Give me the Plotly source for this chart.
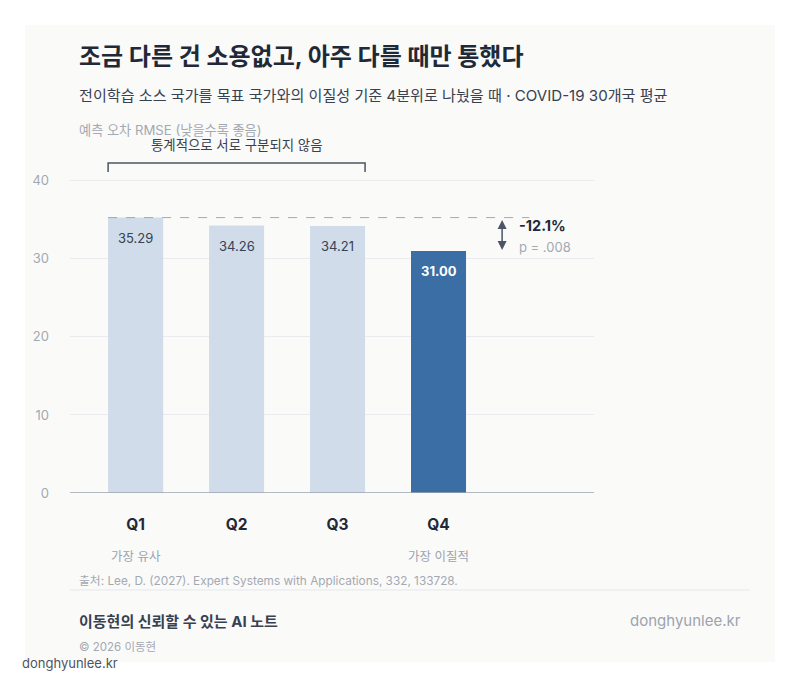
import plotly.graph_objects as go

# dados
quartis = ['Q1', 'Q2', 'Q3', 'Q4']
rmse = [35.29, 34.26, 34.21, 31.00]
rotulos = ['35.29', '34.26', '34.21', '31.00']
notas_eixo = ['가장 유사', '', '', '가장 이질적']
y_ticks = [0, 10, 20, 30, 40]
reducao = '-12.1%'
p_valor = 'p = .008'

FONTE = "Inter, 'Noto Sans CJK KR', sans-serif"
CARD = '#fafaf9'
OFF = 8  # margem do body na pagina
L, R, T, B = 70 - OFF, 594 - OFF, 134 - OFF, 493 - OFF


def px(x):
    return (x - OFF - L) / (R - L)


def py(y):
    return (B - (y - OFF)) / (B - T)


cores = ['#d0dcea', '#d0dcea', '#d0dcea', '#3b6ea5']
x = list(range(len(quartis)))
largura = 0.545

fig = go.Figure()
fig.add_trace(go.Bar(x=x, y=rmse, marker_color=cores, marker_line_width=0,
                     width=largura, hoverinfo='skip'))

fig.update_layout(
    width=800, height=687,
    margin=dict(l=L, r=800 - R, t=T, b=687 - B),
    paper_bgcolor='white', plot_bgcolor=CARD,
    font=dict(family=FONTE, color='#1f2937'),
    showlegend=False,
)
fig.update_xaxes(range=[-0.65, 4.54], tickvals=x,
                 ticktext=['<b>%s</b>' % q for q in quartis],
                 tickfont=dict(size=15.5, color='#1f2937'), ticks='',
                 showgrid=False, showline=False, zeroline=False, ticklabelstandoff=20)
fig.update_yaxes(range=[0, 46], tickvals=y_ticks, showgrid=True, gridcolor='#e9ebef',
                 gridwidth=1, zeroline=False, ticks='', showline=False,
                 tickfont=dict(size=13, color='#a3a9b3'), ticklabelstandoff=20)

# cartao de fundo
fig.add_shape(type='rect', xref='paper', yref='paper', x0=px(25), x1=px(775),
              y0=py(662), y1=py(25), fillcolor=CARD, line_width=0, layer='below')
# eixo zero
fig.add_shape(type='line', xref='paper', yref='y', x0=0, x1=1, y0=0, y1=0,
              line=dict(color='#9ca3af', width=1.5))

# rotulos de valor
for i, v in enumerate(rmse):
    ultimo = i == len(rmse) - 1
    fig.add_annotation(x=i, y=v, text=('<b>%s</b>' % rotulos[i]) if ultimo else rotulos[i],
                       showarrow=False, yshift=-20,
                       font=dict(size=13, color='white' if ultimo else '#374151'))

# notas sob eixo
for i, n in enumerate(notas_eixo):
    if n:
        fig.add_annotation(x=i, y=0, yref='paper', text=n, showarrow=False, yshift=-73,
                           font=dict(size=12.5, color='#9ca3af'))

# linha tracejada de referencia
fig.add_shape(type='line', x0=-largura / 2, x1=3.9, y0=rmse[0], y1=rmse[0],
              line=dict(color='#a3a9b3', width=1, dash='dash'))
# seta dupla
fig.add_annotation(x=3.63, y=rmse[3], ax=3.63, ay=rmse[0], xref='x', yref='y',
                   axref='x', ayref='y', text='', showarrow=True, arrowside='end+start',
                   arrowhead=2, arrowsize=1.2, arrowwidth=1.5, arrowcolor='#4b5563',
                   standoff=1, startstandoff=1)
fig.add_annotation(x=3.78, y=rmse[0], text='<b>%s</b>' % reducao, showarrow=False,
                   xanchor='left', yshift=-8, font=dict(size=14.5, color='#1f2937'))
fig.add_annotation(x=3.78, y=rmse[0], text=p_valor, showarrow=False,
                   xanchor='left', yshift=-29, font=dict(size=13, color='#a3a9b3'))

# colchete Q1-Q3
fig.add_shape(type='path', xref='x', yref='paper',
              path='M %f,%f L %f,%f L %f,%f L %f,%f' % (
                  -largura / 2, py(172), -largura / 2, py(163),
                  2 + largura / 2, py(163), 2 + largura / 2, py(172)),
              line=dict(color='#4b5563', width=1.5))
fig.add_annotation(x=1, y=py(145), yref='paper', text='통계적으로 서로 구분되지 않음',
                   showarrow=False, yanchor='middle', font=dict(size=13.4, color='#374151'))

# textos do cabecalho e rodape
textos = [
    (77, 57, '<b>조금 다른 건 소용없고, 아주 다를 때만 통했다</b>', 24, '#1f2937', 'left'),
    (77, 95, '전이학습 소스 국가를 목표 국가와의 이질성 기준 4분위로 나눴을 때 · COVID-19 30개국 평균', 15.1, '#374151', 'left'),
    (77, 130, '예측 오차 RMSE (낮을수록 좋음)', 13.2, '#a3a9b3', 'left'),
    (77, 581, '출처: Lee, D. (2027). Expert Systems with Applications, 332, 133728.', 11.8, '#a3a9b3', 'left'),
    (77, 621, '<b>이동현의 신뢰할 수 있는 AI 노트</b>', 15, '#374151', 'left'),
    (743, 620, 'donghyunlee.kr', 15, '#9ca3af', 'right'),
    (77, 647, '© 2026 이동현', 11.5, '#a3a9b3', 'left'),
    (20, 663, 'donghyunlee.kr', 13, '#4b5563', 'left'),
]
for xx, yy, t, s, c, a in textos:
    fig.add_annotation(x=px(xx), y=py(yy), xref='paper', yref='paper', text=t,
                       showarrow=False, xanchor=a, yanchor='middle',
                       font=dict(size=s, color=c))

# divisoria do rodape
fig.add_shape(type='line', xref='paper', yref='paper', x0=px(70), x1=px(750),
              y0=py(590), y1=py(590), line=dict(color='#e5e7eb', width=1))

fig.write_html("out.html")
